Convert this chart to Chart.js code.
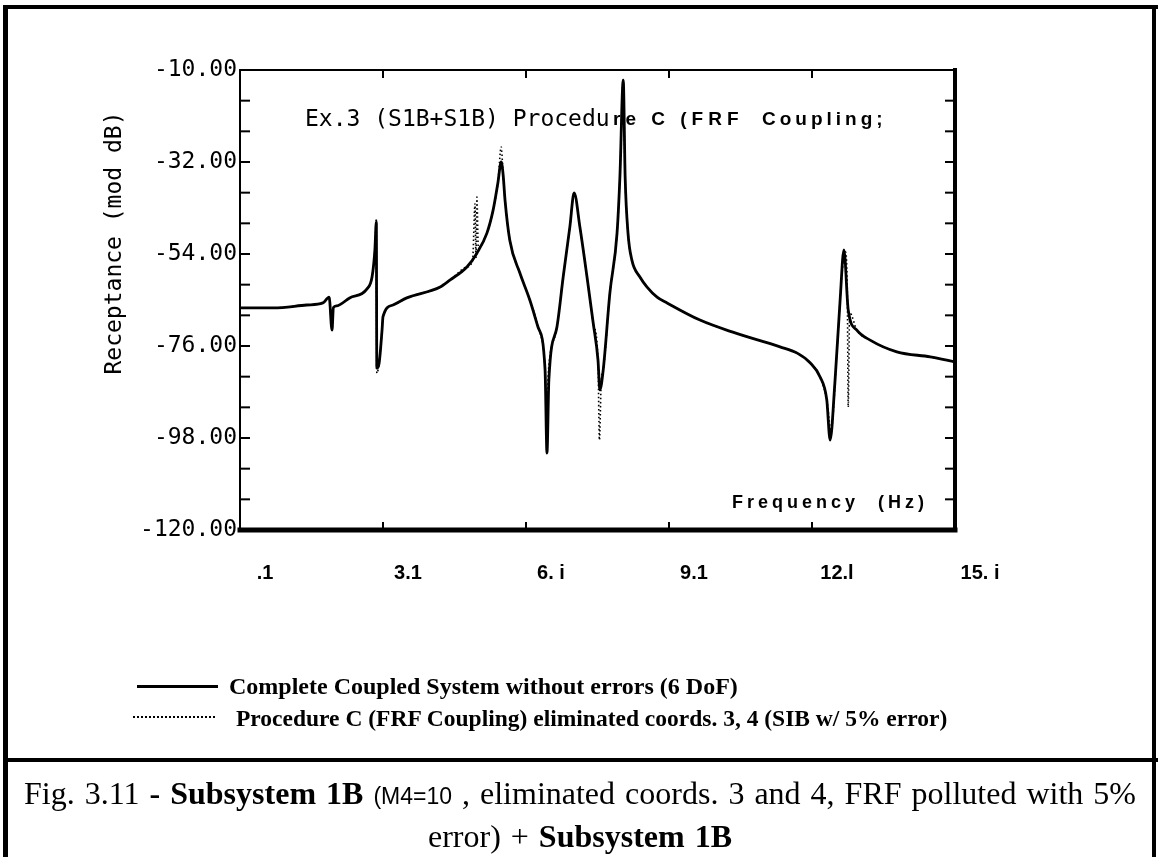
<!DOCTYPE html>
<html><head><meta charset="utf-8">
<script src="https://cdn.jsdelivr.net/npm/chart.js@4.4.0/dist/chart.umd.min.js"></script>
<style>
html,body{margin:0;padding:0;background:#fff;}
#wrap{position:relative;width:1158px;height:857px;overflow:hidden;background:#fff;}
#c{position:absolute;left:0;top:0;}
.frame{position:absolute;background:#000;}
.leg{position:absolute;font-family:"Liberation Serif",serif;font-weight:bold;color:#000;white-space:nowrap;}
.cap{position:absolute;left:5px;width:1150px;text-align:center;font-family:"Liberation Serif",serif;font-size:32px;line-height:36px;word-spacing:2px;color:#000;white-space:nowrap;}
.cap b{font-weight:bold;}
.cap .sm{font-family:"Liberation Sans",sans-serif;font-size:23px;}
</style></head><body>
<div id="wrap">
<canvas id="c" width="1158" height="857"></canvas>
<div class="frame" style="left:3px;top:5px;width:1155px;height:4px"></div>
<div class="frame" style="left:3px;top:5px;width:5px;height:852px"></div>
<div class="frame" style="left:1152px;top:5px;width:4px;height:852px"></div>
<div class="frame" style="left:3px;top:758px;width:1155px;height:4px"></div>
<div style="position:absolute;left:137px;top:685px;width:81px;border-top:3px solid #000"></div>
<div style="position:absolute;left:133px;top:716px;width:82px;border-top:2px dotted #000"></div>
<div class="leg" id="leg1" style="left:229px;top:673px;font-size:24px;line-height:26px"></div>
<div class="leg" id="leg2" style="left:236px;top:705px;font-size:23.5px;line-height:26px"></div>
<div class="cap" style="top:775px">Fig. 3.11 <b>- Subsystem 1B</b> <span class="sm">(M4=10</span> , eliminated coords. 3 and 4, FRF polluted with 5%</div>
<div class="cap" style="top:818px">error) + <b>Subsystem 1B</b></div>
</div>
<script>
// ---- data ----
const solidFreq = [0.1, 0.8, 1.5, 1.84, 1.97, 2.03, 2.06, 2.13, 2.4, 2.76, 2.87, 2.93, 2.96, 2.97, 3.02, 3.08, 3.10, 3.31, 3.60, 4.30, 4.51, 4.86, 5.07, 5.28, 5.41, 5.51, 5.58, 5.62, 5.66, 5.76, 5.97, 6.18, 6.35, 6.50, 6.54, 6.58, 6.75, 6.88, 7.02, 7.11, 7.23, 7.38, 7.51, 7.61, 7.65, 7.72, 7.86, 8.01, 8.07, 8.14, 8.18, 8.24, 8.32, 8.49, 8.64, 8.85, 9.06, 9.75, 10.44, 11.43, 11.79, 12.06, 12.27, 12.41, 12.48, 12.58, 12.69, 12.77, 12.86, 13.04, 13.32, 13.88, 14.58, 15.1];
const solidDb = [-66.9, -66.9, -66.2, -65.7, -64.3, -72.2, -66.8, -66.4, -64.5, -62.4, -59.5, -53, -46.3, -81.3, -80, -72.2, -69, -66.2, -64.5, -61.9, -60.2, -57.1, -53.8, -49, -43.5, -37, -32, -35, -41.1, -50.7, -58.5, -65, -71.4, -81.7, -101.6, -84, -71.4, -59.5, -47.5, -39.4, -47.5, -59.5, -70.5, -79.3, -86.5, -81.7, -63.3, -49, -35.6, -12.4, -35.6, -49, -55.4, -59.5, -61.9, -64.3, -65.7, -69.8, -72.7, -76.2, -77.7, -80, -83.4, -88.9, -98.5, -84.8, -65, -53, -67.4, -72.2, -74.6, -77.4, -78.6, -79.8];
const dotFreq = [0.1, 0.8, 1.5, 1.84, 1.97, 2.03, 2.06, 2.13, 2.4, 2.76, 2.87, 2.93, 2.96, 2.97, 3.02, 3.08, 3.10, 3.31, 3.60, 4.30, 4.51, 4.86, 4.98, 5.03, 5.05, 5.07, 5.10, 5.28, 5.41, 5.51, 5.58, 5.62, 5.66, 5.76, 5.97, 6.18, 6.35, 6.50, 6.53, 6.57, 6.75, 6.88, 7.02, 7.11, 7.23, 7.38, 7.51, 7.61, 7.64, 7.68, 7.72, 7.86, 8.01, 8.07, 8.14, 8.18, 8.24, 8.32, 8.49, 8.64, 8.85, 9.06, 9.75, 10.44, 11.43, 11.79, 12.06, 12.27, 12.41, 12.50, 12.62, 12.72, 12.80, 12.84, 12.86, 12.89, 13.04, 13.32, 13.88, 14.58, 15.1];
const dotDb = [-66.9, -66.9, -66.2, -65.7, -64.3, -72.2, -66.8, -66.4, -64.5, -62.4, -59.5, -53, -45.5, -82.5, -80, -72.2, -69, -66.2, -64.5, -61.9, -60.2, -57.1, -55.5, -42, -55, -40.4, -52.5, -49, -43.5, -37, -28.4, -35, -41.1, -50.7, -58.5, -65, -71.4, -81.7, -91, -82, -71.4, -59.5, -47.5, -39.4, -47.5, -59.5, -70.5, -79.3, -98.5, -84, -81.7, -63.3, -49, -35.6, -12.4, -35.6, -49, -55.4, -59.5, -61.9, -64.3, -65.7, -69.8, -72.7, -76.2, -77.7, -80, -83.4, -88.9, -96, -78, -60, -53.5, -62, -90.6, -68, -72.2, -74.6, -77.4, -78.6, -79.8];
const xTickLabels = [".1", "3.1", "6. i", "9.1", "12.l", "15. i"];
const xMin = 0.1, xMax = 15.1, xStep = 3;
const yMin = -120, yMax = -10, yStep = 22;
const seriesNames = ["Complete Coupled System without errors (6 DoF)", "Procedure C (FRF Coupling) eliminated coords. 3, 4 (SIB w/ 5% error)"];
const yTitle = "Receptance (mod dB)";
const innerTitle = ["Ex.3 (S1B+S1B) Procedu", "re C (FRF", "Coupling;"];
const xTitle = ["Frequency", "(Hz)"];

document.getElementById('leg1').textContent = seriesNames[0];
document.getElementById('leg2').textContent = seriesNames[1];

const framePlugin = {
  id: 'frame',
  afterDraw(chart) {
    const {ctx, chartArea: a, scales: {x, y}} = chart;
    ctx.save();
    ctx.strokeStyle = '#000';
    ctx.fillStyle = '#000';
    const line = (x1, y1, x2, y2, w) => { ctx.lineWidth = w; ctx.beginPath(); ctx.moveTo(x1, y1); ctx.lineTo(x2, y2); ctx.stroke(); };
    ctx.lineCap = 'square';
    line(a.left, a.top, a.right, a.top, 2);
    line(a.left, a.top, a.left, a.bottom, 2);
    line(a.right, a.top, a.right, a.bottom, 4);
    line(a.left, a.bottom, a.right, a.bottom, 5);
    ctx.lineCap = 'butt';
    for (let v = yMin; v <= yMax + 1e-6; v += yStep / 3) {
      const py = y.getPixelForValue(v);
      line(a.left, py, a.left + 10, py, 2);
      line(a.right, py, a.right - 10, py, 2);
    }
    x.ticks.forEach(t => {
      const px = x.getPixelForValue(t.value);
      line(px, a.top, px, a.top + 8, 2);
      line(px, a.bottom, px, a.bottom - 8, 2);
    });
    ctx.textBaseline = 'middle';
    ctx.textAlign = 'left';
    ctx.font = '23px "DejaVu Sans Mono"';
    ctx.fillText(innerTitle[0], a.left + 65, a.top + 50);
    ctx.font = 'bold 19px "Liberation Sans"';
    if ('letterSpacing' in ctx) ctx.letterSpacing = '5px';
    ctx.fillText(innerTitle[1], a.left + 373, a.top + 50);
    if ('letterSpacing' in ctx) ctx.letterSpacing = '4px';
    ctx.fillText(innerTitle[2], a.left + 522, a.top + 50);
    ctx.font = 'bold 18px "Liberation Sans"';
    ctx.fillText(xTitle[0], a.left + 492, a.top + 433);
    ctx.fillText(xTitle[1], a.left + 638, a.top + 433);
    if ('letterSpacing' in ctx) ctx.letterSpacing = '0px';
    // y axis title
    ctx.translate(a.left - 125, a.top + 173);
    ctx.rotate(-Math.PI / 2);
    ctx.textAlign = 'center';
    ctx.font = '23px "DejaVu Sans Mono"';
    ctx.fillText(yTitle, 0, 0);
    ctx.restore();
  }
};

new Chart(document.getElementById('c').getContext('2d'), {
  type: 'line',
  data: {
    datasets: [
      { label: seriesNames[0], data: solidFreq.map((f, i) => ({x: f, y: solidDb[i]})), borderColor: '#000', borderWidth: 2.8, pointRadius: 0, cubicInterpolationMode: 'monotone', fill: false, order: 2 },
      { label: seriesNames[1], data: dotFreq.map((f, i) => ({x: f, y: dotDb[i]})), borderColor: '#000', borderWidth: 1.6, borderDash: [1.5, 2.5], pointRadius: 0, cubicInterpolationMode: 'monotone', fill: false, order: 1 }
    ]
  },
  options: {
    responsive: false, animation: false, devicePixelRatio: 1,
    layout: { padding: { left: 0, top: 70, right: 203, bottom: 267 } },
    plugins: { legend: { display: false }, tooltip: { enabled: false }, title: { display: false } },
    scales: {
      x: {
        type: 'linear', min: xMin, max: xMax,
        ticks: { stepSize: xStep, autoSkip: false, maxRotation: 0, callback: (v, i) => xTickLabels[i], labelOffset: 25, padding: 31, color: '#000', font: { family: 'Liberation Sans', size: 20, weight: 'bold' } },
        grid: { display: false, drawTicks: false }, border: { display: false },
        afterFit: s => { s.height = 60; }
      },
      y: {
        type: 'linear', min: yMin, max: yMax,
        ticks: { stepSize: yStep, callback: v => Number(v).toFixed(2), padding: 3, color: '#000', font: { family: 'DejaVu Sans Mono', size: 23 } },
        grid: { display: false, drawTicks: false }, border: { display: false },
        afterFit: s => { s.width = 240; }
      }
    }
  },
  plugins: [framePlugin]
});
</script>
</body></html>
